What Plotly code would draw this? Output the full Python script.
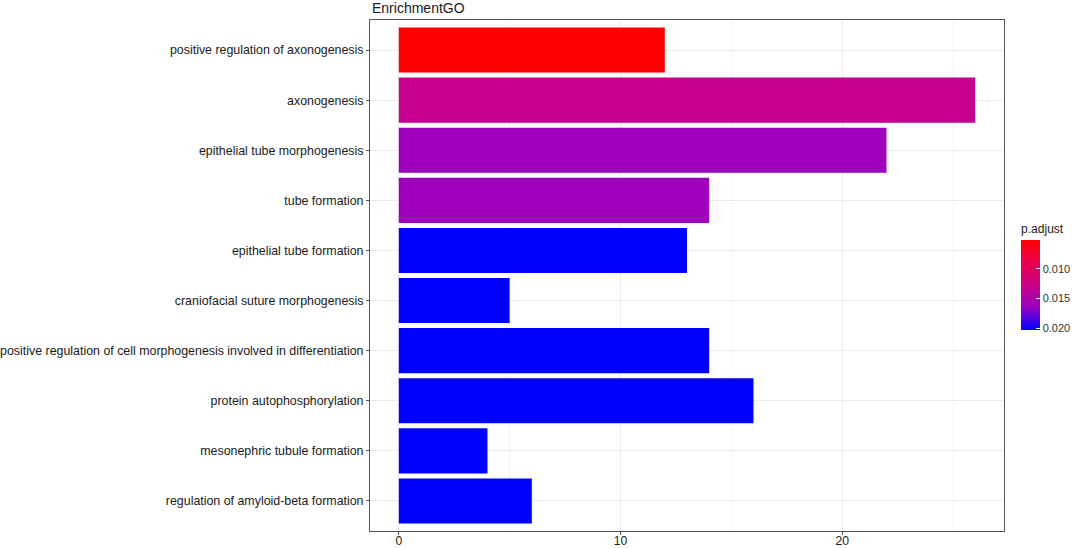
# Recreate the EnrichmentGO bar chart with plotly
# Values are read off the original ggplot figure

import plotly.graph_objects as go

# GO terms, top to bottom as in the figure
terms = [
    "positive regulation of axonogenesis",
    "axonogenesis",
    "epithelial tube morphogenesis",
    "tube formation",
    "epithelial tube formation",
    "craniofacial suture morphogenesis",
    "positive regulation of cell morphogenesis involved in differentiation",
    "protein autophosphorylation",
    "mesonephric tubule formation",
    "regulation of amyloid-beta formation",
]

# Gene counts for each term
counts = [12, 26, 22, 14, 13, 5, 14, 16, 4, 6]

# Adjusted p-values
pAdjust = [0.0052, 0.0131, 0.0161, 0.0161, 0.0203, 0.0203, 0.0203, 0.0203, 0.0203, 0.0203]

# Colour bar ticks
pTicks = [0.010, 0.015, 0.020]
pTickLabels = ["0.010", "0.015", "0.020"]

xTicks = [0, 10, 20]
xMinorTicks = [5, 15, 25]


def enrichmentBarPlot(terms, counts, pAdjust, title="EnrichmentGO"):
    """
    Draw a horizontal bar plot coloured by adjusted p-value

    Arguments:
        terms = list of GO term names
        counts = list of gene counts
        pAdjust = list of adjusted p-values
        title = Title drawn above the panel
    """

    # ggplot puts small p-values (red) on top of the colour bar, plotly puts
    # cmin at the bottom, so the colour values are negated
    colorValues = [-p for p in pAdjust]

    # Red -> blue interpolated in Lab space like ggplot does
    colorscale = [
        [0.0, "#0000FF"],
        [0.25, "#9A00C3"],
        [0.5, "#CA0089"],
        [0.75, "#E8004F"],
        [1.0, "#FF0000"],
    ]

    fig = go.Figure()

    fig.add_trace(go.Bar(
        x=counts,
        y=terms,
        orientation="h",
        marker=dict(
            color=colorValues,
            colorscale=colorscale,
            cmin=-max(pAdjust),
            cmax=-min(pAdjust),
            line=dict(width=0),
            colorbar=dict(
                title=dict(text="p.adjust", side="top", font=dict(size=12, color="#1a1a1a")),
                x=1.027,
                xanchor="left",
                xpad=0,
                y=0.393,
                yanchor="bottom",
                ypad=0,
                len=109,
                lenmode="pixels",
                thickness=19,
                outlinewidth=0,
                tickvals=[-p for p in pTicks],
                ticktext=pTickLabels,
                ticks="inside",
                ticklen=4,
                tickcolor="white",
                tickfont=dict(size=11, color="#333333"),
            ),
        ),
        showlegend=False,
    ))

    fig.update_layout(
        width=1072,
        height=548,
        bargap=0.1,
        plot_bgcolor="white",
        paper_bgcolor="white",
        font=dict(family="Liberation Sans, Arial, sans-serif", size=12, color="#333333"),
        margin=dict(l=370, r=68, t=20, b=17, autoexpand=False),
        xaxis=dict(
            range=[-1.3, 27.3],
            tickvals=xTicks,
            showgrid=True,
            gridcolor="#EBEBEB",
            gridwidth=1,
            minor=dict(tickvals=xMinorTicks, showgrid=True, gridcolor="#F4F4F4", gridwidth=1),
            zeroline=False,
            showline=True,
            mirror=True,
            linecolor="#555555",
            linewidth=1,
            ticks="outside",
            ticklen=3,
            tickcolor="#555555",
            ticklabelstandoff=-5,
            tickfont=dict(size=12.2, color="#1a1a1a"),
        ),
        yaxis=dict(
            categoryorder="array",
            categoryarray=terms,
            range=[len(terms) - 0.4, -0.6],
            showgrid=True,
            gridcolor="#EBEBEB",
            gridwidth=1,
            zeroline=False,
            showline=True,
            mirror=True,
            linecolor="#555555",
            linewidth=1,
            ticks="outside",
            ticklen=3,
            tickcolor="#555555",
            tickfont=dict(size=12.4, color="#1a1a1a"),
        ),
    )

    # Title as annotation so it sits left aligned on the panel edge
    fig.add_annotation(
        text=title,
        xref="paper",
        yref="paper",
        x=0,
        y=1,
        yshift=2,
        xanchor="left",
        yanchor="bottom",
        showarrow=False,
        font=dict(size=14, color="#1a1a1a"),
    )

    # Drop the default page margin so the figure fills the window exactly
    fig.write_html("out.html", config={"displayModeBar": False},
                   post_script="document.body.style.margin='0';")


def main():
    enrichmentBarPlot(terms, counts, pAdjust)


if __name__ == "__main__":
    main()
